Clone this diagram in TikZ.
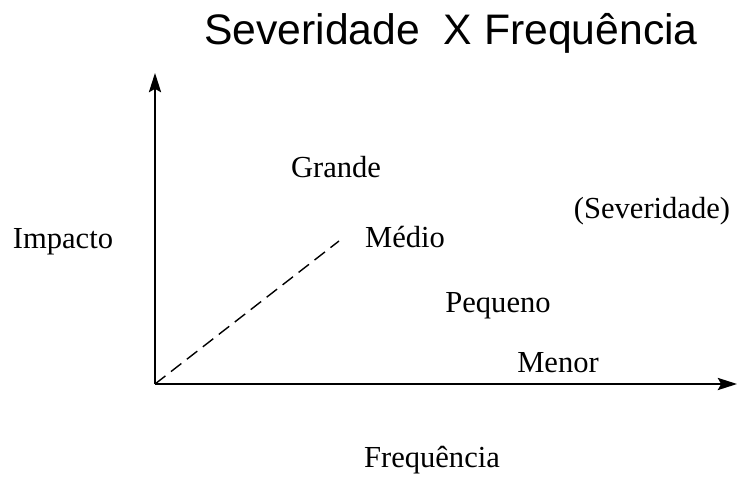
\documentclass[tikz,border=0pt]{standalone}
\usepackage{fontspec}
\setmainfont{Liberation Serif}
\newfontfamily\titlefont{Liberation Sans}
\usepackage{tikz}
\usetikzlibrary{arrows.meta}

\begin{document}
\begin{tikzpicture}[x=0.02cm, y=-0.02cm,
    lbl/.style={anchor=base, inner sep=0pt, font=\fontsize{17.4}{20}\selectfont},
    axis/.style={line width=0.8pt, -{Stealth[length=11pt,width=7pt,inset=2pt]}}]
    \useasboundingbox (0,0) rectangle (737,480);
    \node[anchor=base, inner sep=0pt, font=\titlefont\fontsize{24.3}{28}\selectfont] (title) at (451,44) {Severidade\ \ X Frequência};
    \coordinate (origin) at (155,384);
    \coordinate (ytop) at (155,73);
    \coordinate (xend) at (737,384);
    \coordinate (mid) at (339,241);
    \draw[axis] (origin) -- (ytop);
    \draw[axis] (origin) -- (xend);
    \draw[line width=0.8pt, dash pattern=on 7.5pt off 4pt] (origin) -- (mid);
    \node[lbl] (impacto) at (63,248) {Impacto};
    \node[lbl] (grande) at (336,177) {Grande};
    \node[lbl] (medio) at (405,247) {Médio};
    \node[lbl] (sever) at (652,218) {(Severidade)};
    \node[lbl] (pequeno) at (498,312) {Pequeno};
    \node[lbl] (menor) at (558,372) {Menor};
    \node[lbl] (freq) at (432,467) {Frequência};
  \end{tikzpicture}
\end{document}
